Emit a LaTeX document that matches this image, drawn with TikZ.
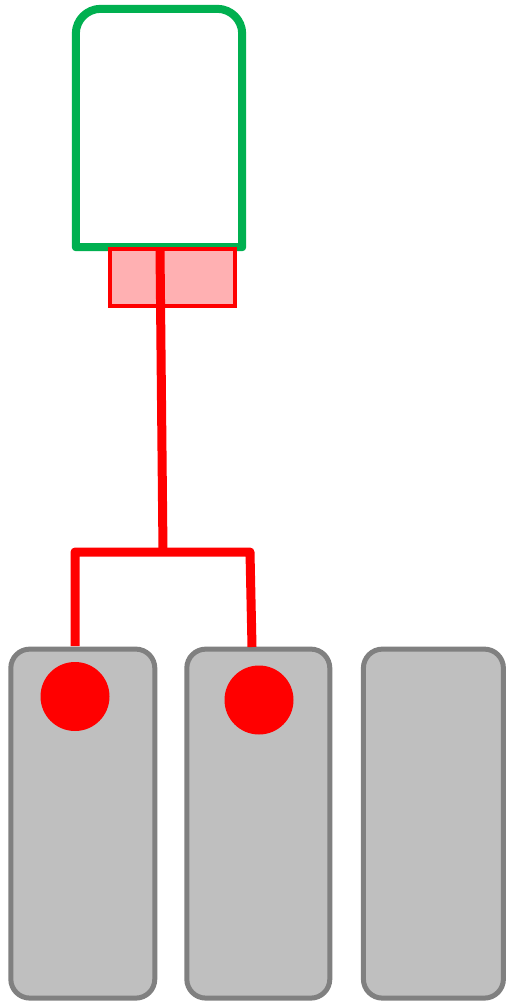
\documentclass[tikz,border=0pt]{standalone}
\begin{document}
\begin{tikzpicture}[x=1pt,y=1pt,
  greenline/.style={draw={rgb,255:red,0;green,176;blue,80},line width=8pt,line join=round},
  pinkbox/.style={draw={rgb,255:red,255;green,0;blue,0},fill={rgb,255:red,255;green,176;blue,178},line width=4pt,rectangle,inner sep=0pt},
  wire/.style={draw={rgb,255:red,255;green,0;blue,0},line width=9pt,line join=round},
  graybox/.style={draw={rgb,255:red,128;green,128;blue,128},fill={rgb,255:red,191;green,191;blue,191},line width=5pt,rectangle,rounded corners=19pt,inner sep=0pt,minimum height=349pt},
  dot/.style={circle,fill={rgb,255:red,255;green,0;blue,0},inner sep=0pt,minimum size=69pt}
]
\useasboundingbox (0,0) rectangle (506,-1002);
% green top box (open node for naming)
\node[rectangle,inner sep=0pt,minimum width=166pt,minimum height=238pt] (top) at (159,-128) {};
\draw[greenline] (top.south west) -- ([yshift=-25pt]top.north west)
  arc[start angle=180,end angle=90,radius=25pt] -- ([xshift=-25pt]top.north east)
  arc[start angle=90,end angle=0,radius=25pt] -- (top.south east) -- cycle;
% pink connector box
\node[pinkbox,minimum width=125pt,minimum height=57pt] (plug) at (172.5,-277.5) {};
% gray boxes
\node[graybox,minimum width=144pt] (b1) at (82.8,-823.6) {};
\node[graybox,minimum width=143pt] (b2) at (258.3,-823.6) {};
\node[graybox,minimum width=140pt] (b3) at (433.4,-823.6) {};
% dots
\node[dot] (d1) at (75,-696.5) {};
\node[dot] (d2) at (259,-700) {};
% wires
\coordinate (ws) at (160,-249);
\coordinate (wj) at (163,-552);
\coordinate (wl) at (75,-552);
\coordinate (wr) at (250,-552);
\coordinate (e1) at (75,-646);
\coordinate (e2) at (252,-647);
\draw[wire] (ws) -- (wj);
\draw[wire] (e1) -- (wl) -- (wr) -- (e2);
\end{tikzpicture}
\end{document}
